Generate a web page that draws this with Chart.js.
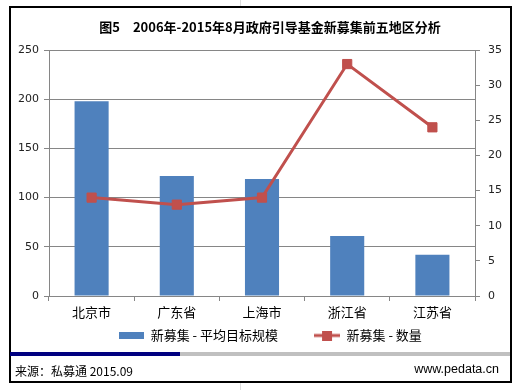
<!DOCTYPE html>
<html>
<head>
<meta charset="utf-8">
<script src="https://cdn.jsdelivr.net/npm/chart.js@4.4.0/dist/chart.umd.min.js"></script>
<style>
  html, body { margin: 0; padding: 0; background: #fff; }
  #wrap { position: relative; width: 524px; height: 390px; overflow: hidden; }
  #myChart { position: absolute; left: 0; top: 0; }
  .frame { position: absolute; left: 9px; top: 6px; width: 503px; height: 377px; border: 2px solid #000; box-sizing: border-box; pointer-events: none; }
  .mark { position: absolute; left: 240px; width: 1px; background: #ddd; }
  .bar-navy { position: absolute; left: 10px; top: 352px; width: 170px; height: 4px; background: #000080; }
  .bar-gray { position: absolute; left: 180px; top: 352px; width: 330px; height: 4px; background: #c0c0c0; }
  .foot { position: absolute; top: 362px; line-height: 18px; color: #000; }
  .src { left: 15px; font: 12px 'Noto Sans CJK SC', 'Liberation Sans', sans-serif; }
  .web { right: 25px; font: 12.5px 'Liberation Sans', Arial, sans-serif; }
</style>
</head>
<body>
<div id="wrap">
  <canvas id="myChart" width="524" height="390"></canvas>
  <div class="mark" style="top:0;height:6px"></div>
  <div class="mark" style="top:383px;height:7px"></div>
  <div class="frame"></div>
  <div class="bar-navy"></div>
  <div class="bar-gray"></div>
  <div class="foot src">来源：私募通 2015.09</div>
  <div class="foot web">www.pedata.cn</div>
</div>
<script>
  const regions = ['北京市', '广东省', '上海市', '浙江省', '江苏省'];
  const avgScale = [198, 122, 119, 61, 42];   // 新募集 - 平均目标规模
  const fundCount = [14, 13, 14, 33, 24];     // 新募集 - 数量
  const leftAxis = { min: 0, max: 250, step: 50 };
  const rightAxis = { min: 0, max: 35, step: 5 };

  const BLUE = '#4f81bd';
  const RED = '#c0504d';
  const GRID = '#868686';
  const CJK = "'Noto Sans CJK SC', sans-serif";

  function glyph(w, h, draw) {
    const c = document.createElement('canvas');
    c.width = w; c.height = h;
    draw(c.getContext('2d'));
    return c;
  }
  const barGlyph = glyph(25, 7, g => { g.fillStyle = BLUE; g.fillRect(0, 0, 25, 7); });
  const lineGlyph = glyph(26, 10, g => {
    g.strokeStyle = RED; g.lineWidth = 3;
    g.beginPath(); g.moveTo(0, 5); g.lineTo(26, 5); g.stroke();
    g.fillStyle = RED; g.fillRect(8, 0, 10, 10);
  });

  const ctx = document.getElementById('myChart');

  const myChart = new Chart(ctx, {
    data: {
      labels: regions,
      datasets: [
        {
          type: 'bar',
          label: '新募集 - 平均目标规模',
          data: avgScale,
          backgroundColor: BLUE,
          categoryPercentage: 1,
          barPercentage: 0.4,
          yAxisID: 'y',
          order: 2,
        },
        {
          type: 'line',
          label: '新募集 - 数量',
          data: fundCount,
          borderColor: RED,
          backgroundColor: RED,
          borderWidth: 3,
          pointStyle: 'rect',
          pointRadius: 6.5,
          pointBorderWidth: 1,
          pointBackgroundColor: RED,
          pointBorderColor: RED,
          tension: 0,
          yAxisID: 'y1',
          order: 1,
        },
      ]
    },
    options: {
      responsive: false,
      animation: false,
      devicePixelRatio: 1,
      layout: { padding: { left: 16, right: 0, top: 0, bottom: 38 } },
      plugins: {
        tooltip: { enabled: false },
        title: {
          display: true,
          text: '图5　2006年-2015年8月政府引导基金新募集前五地区分析',
          color: '#000',
          font: { family: CJK, size: 13, weight: 'bold' },
          padding: { top: 19.2, bottom: 15.2 },
        },
        legend: {
          position: 'bottom',
          labels: {
            usePointStyle: true,
            pointStyleWidth: 26,
            padding: 10,
            color: '#000',
            font: { family: CJK, size: 13 },
            sort: (a, b) => a.datasetIndex - b.datasetIndex,
            generateLabels(chart) {
              const items = Chart.defaults.plugins.legend.labels.generateLabels(chart);
              items.forEach(it => {
                it.pointStyle = it.datasetIndex === 0 ? barGlyph : lineGlyph;
                if (it.datasetIndex === 0) it.text += '\u3000\u3000';
              });
              return items;
            }
          }
        }
      },
      scales: {
        x: {
          grid: { offset: true, drawOnChartArea: false, drawTicks: true, tickLength: 5, color: GRID },
          border: { color: GRID },
          ticks: { color: '#000', padding: 3, font: { family: CJK, size: 13 } },
          afterFit(s) { s.height = 23; }
        },
        y: {
          position: 'left',
          min: leftAxis.min,
          max: leftAxis.max,
          grid: { color: GRID, tickLength: 5 },
          border: { color: GRID },
          ticks: { stepSize: leftAxis.step, color: '#222', padding: 5, font: { family: "'DejaVu Sans', sans-serif", size: 11 } },
          afterFit(s) { s.width = 33; }
        },
        y1: {
          position: 'right',
          min: rightAxis.min,
          max: rightAxis.max,
          grid: { drawOnChartArea: false, color: GRID, tickLength: 5 },
          border: { color: GRID },
          ticks: { stepSize: rightAxis.step, color: '#222', padding: 8, font: { family: "'DejaVu Sans', sans-serif", size: 11 } },
          afterFit(s) { s.width = 49; }
        }
      }
    }
  });
</script>
</body>
</html>
